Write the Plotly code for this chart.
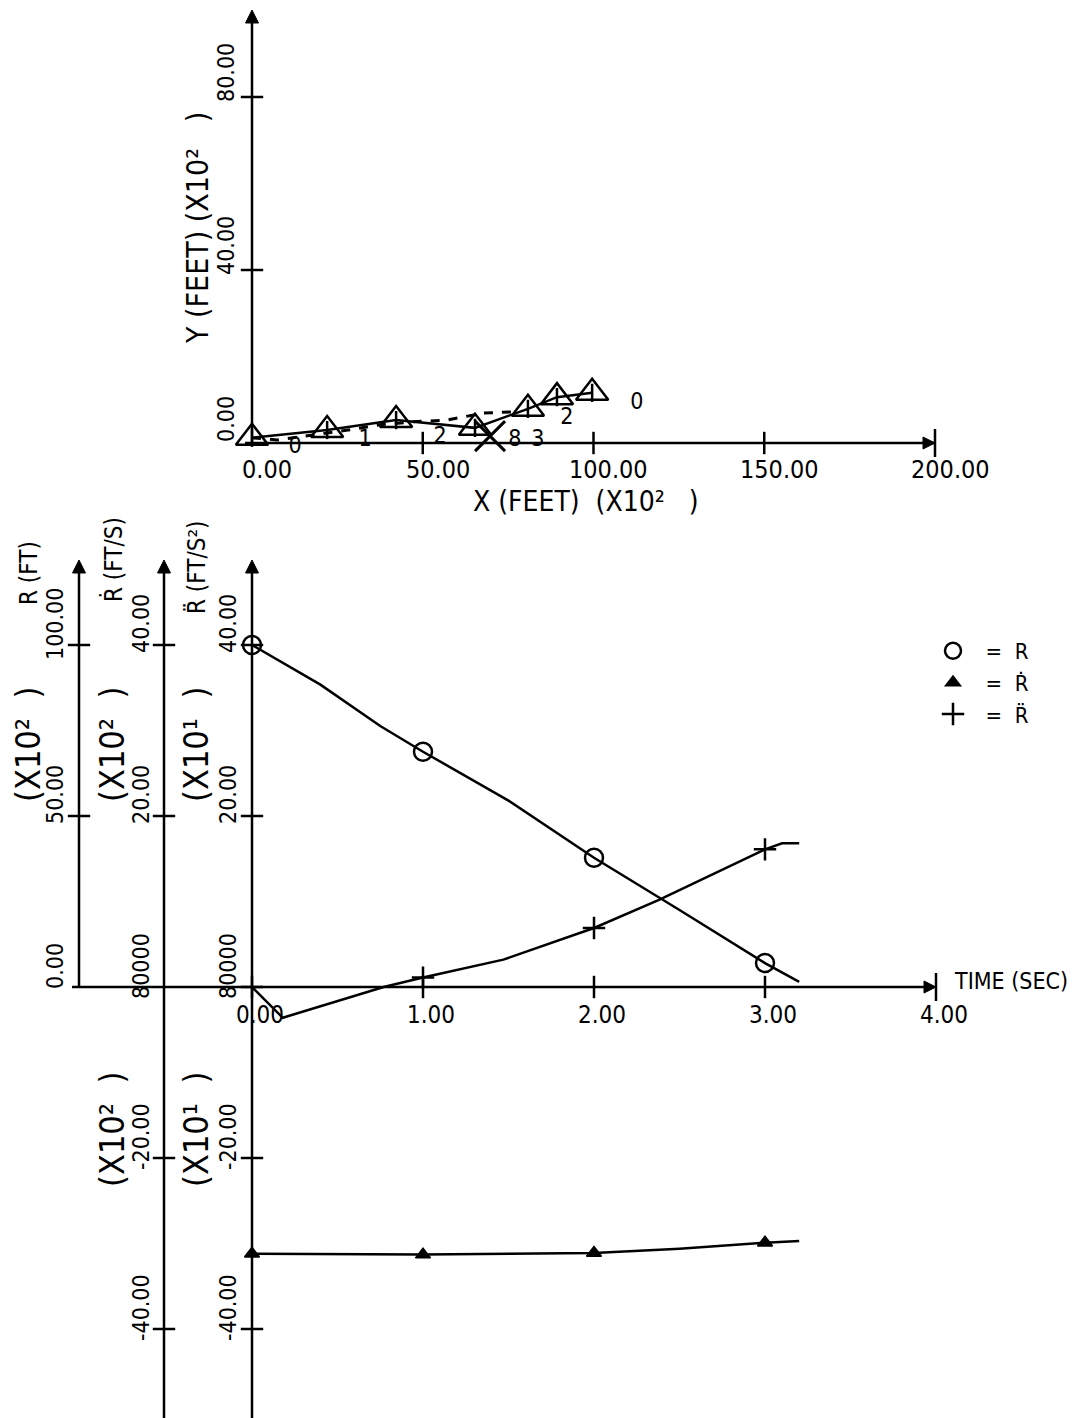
import plotly.graph_objects as go

W, H = 1079, 1418
FONT = "DejaVu Sans Condensed, DejaVu Sans, sans-serif"
NB = "\u00a0"

# ---------------- data: top chart (trajectory, X and Y in 10^2 ft) ----------------
traj_x = [0, 22.0, 42.2, 65.3, 80.8, 89.3, 99.6]
traj_y = [1.2, 3.0, 5.3, 3.5, 7.9, 10.6, 11.6]
dash_x = [0, 7.3, 28.1, 37.5, 47.1, 57.1, 67.6, 76.4]
dash_y = [1.2, 0.7, 3.0, 4.2, 4.9, 5.3, 6.9, 7.2]
lab_x = [12.6, 33.1, 55.1, 77.0, 83.7, 92.2, 112.7]
lab_y = [-0.9, 0.7, 1.4, 0.7, 0.7, 5.8, 9.2]
lab_text = ["0", "1", "2", "8", "3", "2", "0"]
cross_x = [69.7]
cross_y = [1.6]
top_xticks = [0, 50, 100, 150, 200]
top_xticklabels = ["0.00", "50.00", "100.00", "150.00", "200.00"]
top_yticks = [0, 40, 80]
top_yticklabels = ["0.00", "40.00", "80.00"]

# ---------------- data: bottom chart (time histories) ----------------
t_R = [0, 0.4, 0.75, 1, 1.5, 2, 2.5, 3, 3.2]
R = [100, 88.4, 76.3, 68.8, 54.5, 37.8, 22.5, 7.0, 1.5]          # x10^2 ft
t_Rd = [0, 1, 2, 2.5, 3, 3.2]
Rd = [-31.2, -31.3, -31.1, -30.6, -29.9, -29.7]                  # x10^2 ft/s
t_Rdd = [0, 0.18, 0.77, 1, 1.47, 2, 2.38, 3, 3.1, 3.2]
Rdd = [0, -3.6, 0, 1.1, 3.2, 6.9, 10.2, 16.1, 16.8, 16.8]        # x10^1 ft/s^2
mark_t = [0, 1, 2, 3]
time_ticks = [0, 1, 2, 3, 4]
time_ticklabels = ["0.00", "1.00", "2.00", "3.00", "4.00"]
R_ticks = [0, 50, 100]
R_ticklabels = ["0.00", "50.00", "100.00"]
V_ticks = [-40, -20, 0, 20, 40]
V_ticklabels = ["-40.00", "-20.00", "80000", "20.00", "40.00"]

# ---------------- geometry (pixels) ----------------
TOP_X0, TOP_XS = 252, 683 / 200      # px of x=0, px per unit
TOP_Y0, TOP_YS = 443, 173 / 40
BOT_T0, BOT_TS = 252, 171
BOT_Y0 = 987
R_S = 171 / 50
V_S = 171 / 20
AX1_PX, AX2_PX, AX3_PX = 79, 164, 252
TOP_TIP_PY, BOT_TIP_PY, BOT_END_PY = 10, 560, 1418


def t_at(px):
    return (px - BOT_T0) / BOT_TS


def pxx(px):
    return px / W


def pxy(py):
    return 1 - py / H


fig = go.Figure()


def mk(x, y, sym, xa, ya, size=16, lw=2.5):
    return go.Scatter(x=x, y=y, mode="markers", xaxis=xa, yaxis=ya,
                      marker=dict(symbol=sym, size=size, color="black",
                                  line=dict(width=lw, color="black")),
                      showlegend=False, cliponaxis=False, hoverinfo="skip")


# ---------------- top chart traces ----------------
fig.add_trace(go.Scatter(x=dash_x, y=dash_y, mode="lines", xaxis="x", yaxis="y",
                         line=dict(color="black", width=3, dash="dash"),
                         showlegend=False, cliponaxis=False, hoverinfo="skip"))
fig.add_trace(go.Scatter(x=traj_x, y=traj_y, mode="lines+markers", xaxis="x", yaxis="y",
                         line=dict(color="black", width=2.5),
                         marker=dict(symbol="triangle-up-open", size=28, color="black",
                                     line=dict(width=2.5, color="black")),
                         showlegend=False, cliponaxis=False))
fig.add_trace(mk(traj_x, traj_y, "line-ns", "x", "y", size=13))
fig.add_trace(mk(cross_x, cross_y, "x-thin", "x", "y", size=30, lw=3))
fig.add_trace(go.Scatter(x=lab_x, y=lab_y, mode="text", text=lab_text, xaxis="x", yaxis="y",
                         textfont=dict(family=FONT, size=23, color="black"),
                         showlegend=False, cliponaxis=False, hoverinfo="skip"))

# ticks and arrow heads (top)
fig.add_trace(mk(top_xticks[1:-1], [0] * (len(top_xticks) - 2), "line-ns", "x", "y"))
fig.add_trace(mk([top_xticks[-1]], [0], "line-ns", "x", "y", size=20))
fig.add_trace(mk([0] * (len(top_yticks) - 1), top_yticks[1:], "line-ew", "x", "y"))
fig.add_trace(mk([0], [(TOP_Y0 - TOP_TIP_PY) / TOP_YS], "arrow-up", "x", "y", size=13, lw=1))
fig.add_trace(mk([top_xticks[-1]], [0], "arrow-right", "x", "y", size=12, lw=1))

# ---------------- bottom chart traces ----------------
fig.add_trace(go.Scatter(x=t_R, y=R, mode="lines", xaxis="x2", yaxis="y2",
                         line=dict(color="black", width=2.5), showlegend=False, cliponaxis=False))
fig.add_trace(go.Scatter(x=t_Rd, y=Rd, mode="lines", xaxis="x2", yaxis="y3",
                         line=dict(color="black", width=2.5), showlegend=False, cliponaxis=False))
fig.add_trace(go.Scatter(x=t_Rdd, y=Rdd, mode="lines", xaxis="x2", yaxis="y4",
                         line=dict(color="black", width=2.5), showlegend=False, cliponaxis=False))

fig.add_trace(go.Scatter(x=mark_t, y=[R[t_R.index(t)] for t in mark_t], mode="markers",
                         xaxis="x2", yaxis="y2", name=f"{NB}{NB}={NB}{NB}R",
                         marker=dict(symbol="circle-open", size=18, color="black",
                                     line=dict(width=2.5, color="black")), cliponaxis=False))
fig.add_trace(go.Scatter(x=mark_t, y=[Rd[t_Rd.index(t)] for t in mark_t], mode="markers",
                         xaxis="x2", yaxis="y3", name=f"{NB}{NB}={NB}{NB}\u1E58",
                         marker=dict(symbol="triangle-up", size=13, color="black",
                                     line=dict(width=1.5, color="black")), cliponaxis=False))
fig.add_trace(go.Scatter(x=mark_t, y=[Rdd[t_Rdd.index(t)] for t in mark_t], mode="markers",
                         xaxis="x2", yaxis="y4", name=f"{NB}{NB}={NB}{NB}R\u0308",
                         marker=dict(symbol="cross-thin-open", size=16, color="black",
                                     line=dict(width=2.5, color="black")), cliponaxis=False))

fig.add_trace(mk(time_ticks[1:-1], [0] * (len(time_ticks) - 2), "line-ns", "x2", "y2"))
fig.add_trace(mk([time_ticks[-1]], [0], "line-ns", "x2", "y2", size=20))
fig.add_trace(mk([time_ticks[-1]], [0], "arrow-right", "x2", "y2", size=12, lw=1))
fig.add_trace(mk([t_at(AX1_PX)] * (len(R_ticks) - 1), R_ticks[1:], "line-ew", "x2", "y2"))
vt = [v for v in V_ticks if v != 0]
fig.add_trace(mk([t_at(AX2_PX)] * len(vt), vt, "line-ew", "x2", "y3"))
fig.add_trace(mk([t_at(AX3_PX)] * len(vt), vt, "line-ew", "x2", "y4"))
fig.add_trace(mk([t_at(AX1_PX)], [(BOT_Y0 - BOT_TIP_PY) / R_S], "arrow-up", "x2", "y2", size=13, lw=1))
fig.add_trace(mk([t_at(AX2_PX)], [(BOT_Y0 - BOT_TIP_PY) / V_S], "arrow-up", "x2", "y3", size=13, lw=1))
fig.add_trace(mk([t_at(AX3_PX)], [(BOT_Y0 - BOT_TIP_PY) / V_S], "arrow-up", "x2", "y4", size=13, lw=1))

# ---------------- axis lines ----------------
LW = 2.5
shapes = [
    dict(type="line", xref="x", yref="y", x0=(245 - TOP_X0) / TOP_XS, x1=top_xticks[-1], y0=0, y1=0,
         line=dict(color="black", width=LW)),
    dict(type="line", xref="x", yref="y", x0=0, x1=0, y0=0, y1=(TOP_Y0 - TOP_TIP_PY - 8) / TOP_YS,
         line=dict(color="black", width=LW)),
    dict(type="line", xref="x2", yref="y2", x0=t_at(72), x1=time_ticks[-1] - 8 / BOT_TS, y0=0, y1=0,
         line=dict(color="black", width=LW)),
    dict(type="line", xref="paper", yref="y2", x0=pxx(AX1_PX), x1=pxx(AX1_PX), y0=0,
         y1=(BOT_Y0 - BOT_TIP_PY - 8) / R_S, line=dict(color="black", width=LW)),
    dict(type="line", xref="paper", yref="y3", x0=pxx(AX2_PX), x1=pxx(AX2_PX),
         y0=(BOT_Y0 - BOT_END_PY) / V_S, y1=(BOT_Y0 - BOT_TIP_PY - 8) / V_S,
         line=dict(color="black", width=LW)),
    dict(type="line", xref="paper", yref="y4", x0=pxx(AX3_PX), x1=pxx(AX3_PX),
         y0=(BOT_Y0 - BOT_END_PY) / V_S, y1=(BOT_Y0 - BOT_TIP_PY - 8) / V_S,
         line=dict(color="black", width=LW)),
]


def txt(text, x, y, xref, yref, size, angle=0, xshift=0, yshift=0, xanchor="center"):
    return dict(text=text, x=x, y=y, xref=xref, yref=yref, showarrow=False,
                textangle=angle, xshift=xshift, yshift=yshift, xanchor=xanchor, yanchor="middle",
                font=dict(family=FONT, size=size, color="black"))


ann = []
# top tick labels
for v, s in zip(top_xticks, top_xticklabels):
    ann.append(txt(s, v, 0, "x", "y", 25, xshift=15, yshift=-26))
for v, s in zip(top_yticks, top_yticklabels):
    ann.append(txt(s, 0, v, "x", "y", 23, angle=-90, xshift=-26, yshift=24))
# top titles
ann.append(txt(f"Y (FEET) (X10\u00b2{NB}{NB}{NB})", pxx(198), pxy(228), "paper", "paper", 30, angle=-90))
ann.append(txt(f"X (FEET){NB}{NB}(X10\u00b2{NB}{NB}{NB})", pxx(586), pxy(501), "paper", "paper", 28))

# bottom tick labels
for v, s in zip(time_ticks, time_ticklabels):
    ann.append(txt(s, v, 0, "x2", "y2", 24, xshift=8, yshift=-28))
for v, s in zip(R_ticks, R_ticklabels):
    ann.append(txt(s, pxx(AX1_PX - 24), v, "paper", "y2", 23, angle=-90, yshift=21))
for v, s in zip(V_ticks, V_ticklabels):
    ann.append(txt(s, pxx(AX2_PX - 23), v, "paper", "y3", 23, angle=-90, yshift=21))
    ann.append(txt(s, pxx(AX3_PX - 24), v, "paper", "y4", 23, angle=-90, yshift=21))

# bottom axis titles
ann.append(txt("R (FT)", pxx(29), pxy(573), "paper", "paper", 24, angle=-90))
ann.append(txt("\u1E58 (FT/S)", pxx(113), pxy(560), "paper", "paper", 24, angle=-90))
ann.append(txt("R\u0308 (FT/S\u00b2)", pxx(197), pxy(567), "paper", "paper", 24, angle=-90))
for cx, cy, e in [(28, 745, "\u00b2"), (112, 745, "\u00b2"), (196, 745, "\u00b9"),
                  (112, 1130, "\u00b2"), (196, 1130, "\u00b9")]:
    ann.append(txt(f"(X10{e}{NB}{NB})", pxx(cx), pxy(cy), "paper", "paper", 34, angle=-90))
ann.append(txt("TIME (SEC)", pxx(952), pxy(981), "paper", "paper", 23, xanchor="left"))

hidden = dict(visible=False, showgrid=False, zeroline=False, fixedrange=True)
top_dom = [pxy(520), 1]
bot_dom = [0, pxy(540)]

fig.update_layout(
    width=W, height=H, autosize=False,
    margin=dict(l=0, r=0, t=0, b=0, pad=0),
    paper_bgcolor="white", plot_bgcolor="white",
    font=dict(family=FONT, color="black"),
    xaxis=dict(domain=[0, 1], range=[(0 - TOP_X0) / TOP_XS, (W - TOP_X0) / TOP_XS], anchor="y", **hidden),
    yaxis=dict(domain=top_dom, range=[(TOP_Y0 - 520) / TOP_YS, TOP_Y0 / TOP_YS], anchor="x", **hidden),
    xaxis2=dict(domain=[0, 1], range=[t_at(0), t_at(W)], anchor="y2", **hidden),
    yaxis2=dict(domain=bot_dom, range=[(BOT_Y0 - H) / R_S, (BOT_Y0 - 540) / R_S], anchor="x2", **hidden),
    yaxis3=dict(overlaying="y2", range=[(BOT_Y0 - H) / V_S, (BOT_Y0 - 540) / V_S], anchor="x2", **hidden),
    yaxis4=dict(overlaying="y2", range=[(BOT_Y0 - H) / V_S, (BOT_Y0 - 540) / V_S], anchor="x2", **hidden),
    shapes=shapes,
    annotations=ann,
    showlegend=True,
    legend=dict(x=pxx(933), y=pxy(630), xanchor="left", yanchor="top",
                bgcolor="rgba(0,0,0,0)", borderwidth=0, traceorder="normal",
                font=dict(family=FONT, size=22, color="black"), itemwidth=30, tracegroupgap=0),
)

fig.write_html("out.html")
